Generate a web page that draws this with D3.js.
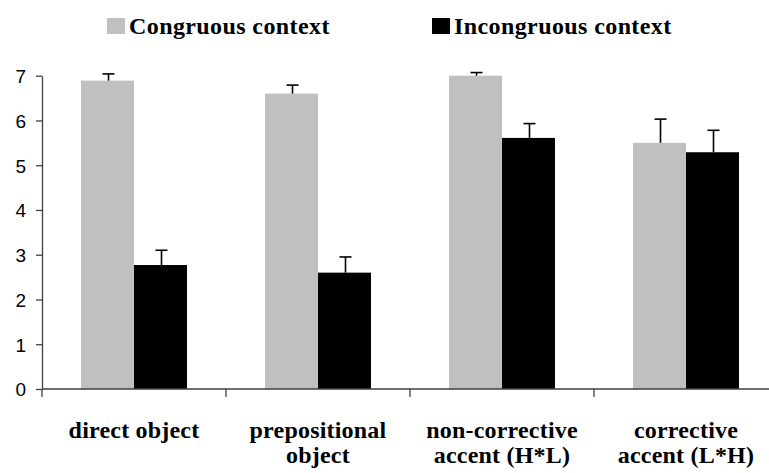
<!DOCTYPE html>
<html>
<head>
<meta charset="utf-8">
<script src="https://cdn.jsdelivr.net/npm/d3@7"></script>
<style>
  html, body { margin: 0; padding: 0; background: #fff; }
  svg { display: block; }
</style>
</head>
<body>
<svg id="chart" width="769" height="473"></svg>
<script>
// ---- data ----
const categories = ["direct object", "prepositional object", "non-corrective accent (H*L)", "corrective accent (L*H)"];
const categoryLines = [["direct object"], ["prepositional", "object"], ["non-corrective", "accent (H*L)"], ["corrective", "accent (L*H)"]];
const seriesNames = ["Congruous context", "Incongruous context"];
const congruous = [6.89, 6.60, 7.00, 5.50];
const incongruous = [2.77, 2.60, 5.61, 5.29];
const congruousErr = [0.15, 0.19, 0.07, 0.53];
const incongruousErr = [0.33, 0.35, 0.32, 0.49];
const yTicks = [0, 1, 2, 3, 4, 5, 6, 7];
const colors = ["#c0c0c0", "#000000"];

// ---- layout ----
const SERIF = '"Liberation Serif"';
const SANS = '"Liberation Sans"';
const svg = d3.select("#chart");
const plotLeft = 42, plotRight = 778, plotTop = 75.7, plotBottom = 389;

const y = d3.scaleLinear().domain([0, 7]).range([plotBottom, plotTop]);
const x0 = d3.scaleBand().domain(categories).range([plotLeft, plotRight]).padding(0);
const bw = x0.bandwidth();
const x1 = d3.scaleBand().domain(seriesNames).range([39, 145]).padding(0);

const values = [congruous, incongruous];
const errs = [congruousErr, incongruousErr];

// bars
const g = svg.append("g");
categories.forEach((c, i) => {
  seriesNames.forEach((s, j) => {
    const bx = x0(c) + x1(s);
    g.append("rect")
      .attr("x", bx)
      .attr("y", y(values[j][i]))
      .attr("width", x1.bandwidth())
      .attr("height", y(0) - y(values[j][i]))
      .attr("fill", colors[j]);
  });
});

// error bars
categories.forEach((c, i) => {
  seriesNames.forEach((s, j) => {
    const cx = Math.round(x0(c) + x1(s) + x1.bandwidth() / 2) + 0.5;
    const yt = y(values[j][i] + errs[j][i]);
    const yb = y(values[j][i]);
    g.append("line").attr("x1", cx).attr("x2", cx).attr("y1", yb).attr("y2", yt)
      .attr("stroke", "#000").attr("stroke-width", 1.6);
    g.append("line").attr("x1", cx - 6).attr("x2", cx + 6).attr("y1", yt).attr("y2", yt)
      .attr("stroke", "#000").attr("stroke-width", 1.6);
  });
});

// y axis
const yAxis = d3.axisLeft(y).tickValues(yTicks).tickFormat(d3.format("d")).tickSize(6).tickSizeOuter(0).tickPadding(10);
const ya = svg.append("g").attr("transform", `translate(${plotLeft},0)`).call(yAxis);
ya.attr("font-family", null).attr("font-size", null);
ya.select(".domain").attr("stroke", "#404040").attr("stroke-width", 1.3);
ya.selectAll(".tick line").attr("stroke", "#404040").attr("stroke-width", 1.3);
ya.selectAll(".tick text")
  .style("font-family", SANS)
  .style("font-size", "19px")
  .attr("fill", "#000")
  .attr("dy", "0.36em");

// x axis
const xa = svg.append("g");
xa.append("line").attr("x1", plotLeft).attr("x2", plotRight).attr("y1", plotBottom).attr("y2", plotBottom)
  .attr("stroke", "#404040").attr("stroke-width", 1.3);
const boundaries = categories.map(c => x0(c)).concat([x0(categories[categories.length - 1]) + bw]);
xa.selectAll("line.b").data(boundaries).enter().append("line")
  .attr("class", "b")
  .attr("x1", d => d).attr("x2", d => d).attr("y1", plotBottom).attr("y2", plotBottom + 8)
  .attr("stroke", "#404040").attr("stroke-width", 1.3);

// category labels
categories.forEach((c, i) => {
  const t = svg.append("text")
    .attr("x", x0(c) + bw / 2)
    .attr("y", 438)
    .attr("text-anchor", "middle")
    .style("font-family", SERIF)
    .style("font-weight", "bold")
    .style("font-size", "24px")
    .style("letter-spacing", "0.2px")
    .attr("fill", "#000");
  categoryLines[i].forEach((line, k) => {
    t.append("tspan").attr("x", x0(c) + bw / 2).attr("y", 438 + k * 25).text(line);
  });
});

// legend
const legendX = [107, 432];
seriesNames.forEach((s, j) => {
  svg.append("rect").attr("x", legendX[j]).attr("y", 18).attr("width", 18).attr("height", 16).attr("fill", colors[j]);
  svg.append("text")
    .attr("x", legendX[j] + 22)
    .attr("y", 34)
    .style("font-family", SERIF)
    .style("font-weight", "bold")
    .style("font-size", "24px")
    .style("letter-spacing", "0.4px")
    .attr("fill", "#000")
    .text(s);
});
</script>
</body>
</html>
